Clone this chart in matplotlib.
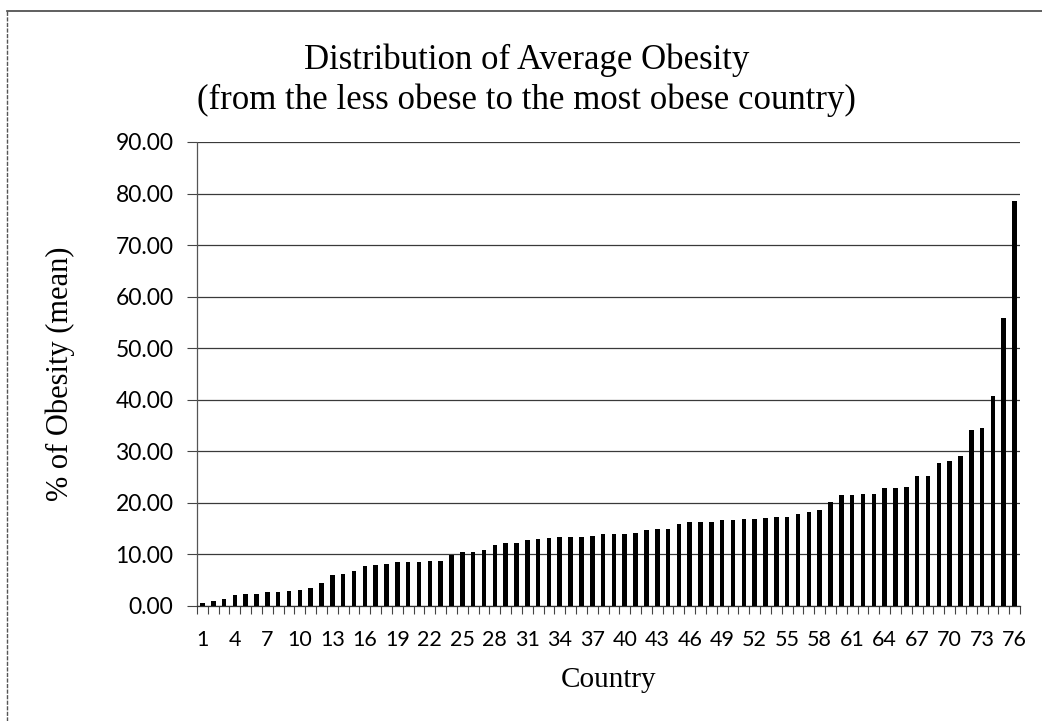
import matplotlib
matplotlib.use("Agg")
import matplotlib.pyplot as plt
from matplotlib.lines import Line2D

# --- Data ---
countries = list(range(1, 77))
obesity_mean = [
    0.5, 0.9, 1.4, 2.2, 2.4, 2.4, 2.8, 2.8, 3.0, 3.1,
    3.4, 4.5, 6.0, 6.3, 6.8, 7.7, 7.9, 8.2, 8.5, 8.5,
    8.6, 8.7, 8.8, 9.9, 10.4, 10.5, 10.9, 11.8, 12.2, 12.3,
    12.8, 12.9, 13.1, 13.3, 13.3, 13.3, 13.6, 14.0, 14.0, 14.0,
    14.2, 14.7, 14.9, 14.9, 15.9, 16.2, 16.2, 16.3, 16.6, 16.7,
    16.8, 16.9, 17.1, 17.3, 17.3, 17.9, 18.2, 18.6, 20.1, 21.6,
    21.6, 21.8, 21.8, 22.9, 22.9, 23.1, 25.2, 25.2, 27.8, 28.2,
    29.0, 34.1, 34.6, 40.8, 55.8, 78.6,
]
x_labels_shown = list(range(1, 77, 3))
y_ticks = [0, 10, 20, 30, 40, 50, 60, 70, 80, 90]

title_text = "Distribution of Average Obesity\n(from the less obese to the most obese country)"

# --- Figure ---
fig = plt.figure(figsize=(10.42, 7.21), dpi=100)
ax = fig.add_axes([197 / 1042, 1 - 606 / 721, 823 / 1042, 464 / 721])

ax.bar(countries, obesity_mean, width=0.42, color="black", zorder=3)

ax.set_xlim(0.5, 76.5)
ax.set_ylim(0, 90)

# gridlines
ax.set_yticks(y_ticks)
ax.set_yticklabels([f"{v:.2f}" for v in y_ticks])
ax.yaxis.grid(True, color="#3a3a3a", linewidth=0.9, zorder=0)
ax.xaxis.grid(False)

# x ticks: marks between the categories, labels every 3rd country
ax.set_xticks(x_labels_shown)
ax.set_xticklabels([str(v) for v in x_labels_shown])
ax.set_xticks([i + 0.5 for i in range(0, 77)], minor=True)
ax.tick_params(axis="x", which="major", length=0, pad=17.5)
ax.tick_params(axis="x", which="minor", length=6, width=0.8, color="#444444")
ax.tick_params(axis="y", which="major", length=7, width=0.8, color="#444444", pad=10)

for lab in ax.get_xticklabels():
    lab.set_fontfamily("Lato")
    lab.set_fontsize(15.5)
for lab in ax.get_yticklabels():
    lab.set_fontfamily("Lato")
    lab.set_fontsize(16.5)

for side in ["top", "right"]:
    ax.spines[side].set_visible(False)
ax.spines["left"].set_color("#555555")
ax.spines["left"].set_linestyle((0, (1, 1)))
ax.spines["left"].set_linewidth(0.9)
ax.spines["bottom"].set_color("#333333")
ax.spines["bottom"].set_linewidth(0.9)

ax.set_xlabel("Country", family="Liberation Serif", fontsize=21)
ax.xaxis.set_label_coords(0.5, -(680 - 606) / 464)
ax.xaxis.label.set_va("center")
ax.set_ylabel("% of Obesity (mean)", family="Liberation Serif", fontsize=22)
ax.yaxis.set_label_coords(-(197 - 60) / 823, 0.5)
ax.yaxis.label.set_va("center")

fig.text(0.505, 1 - 80 / 721, title_text, ha="center", va="center",
         family="Liberation Serif", fontsize=25, linespacing=1.25)

# outer chart border (top and left visible in the picture)
fig.add_artist(Line2D([6.7 / 1042, 6.7 / 1042], [0, 1 - 10.7 / 721],
                      transform=fig.transFigure, color="#555555", linewidth=1.0,
                      linestyle=(0, (3, 1))))
fig.add_artist(Line2D([6.7 / 1042, 1], [1 - 10.7 / 721, 1 - 10.7 / 721],
                      transform=fig.transFigure, color="#444444", linewidth=1.2))

fig.savefig("out.png", dpi=100, facecolor="white")
